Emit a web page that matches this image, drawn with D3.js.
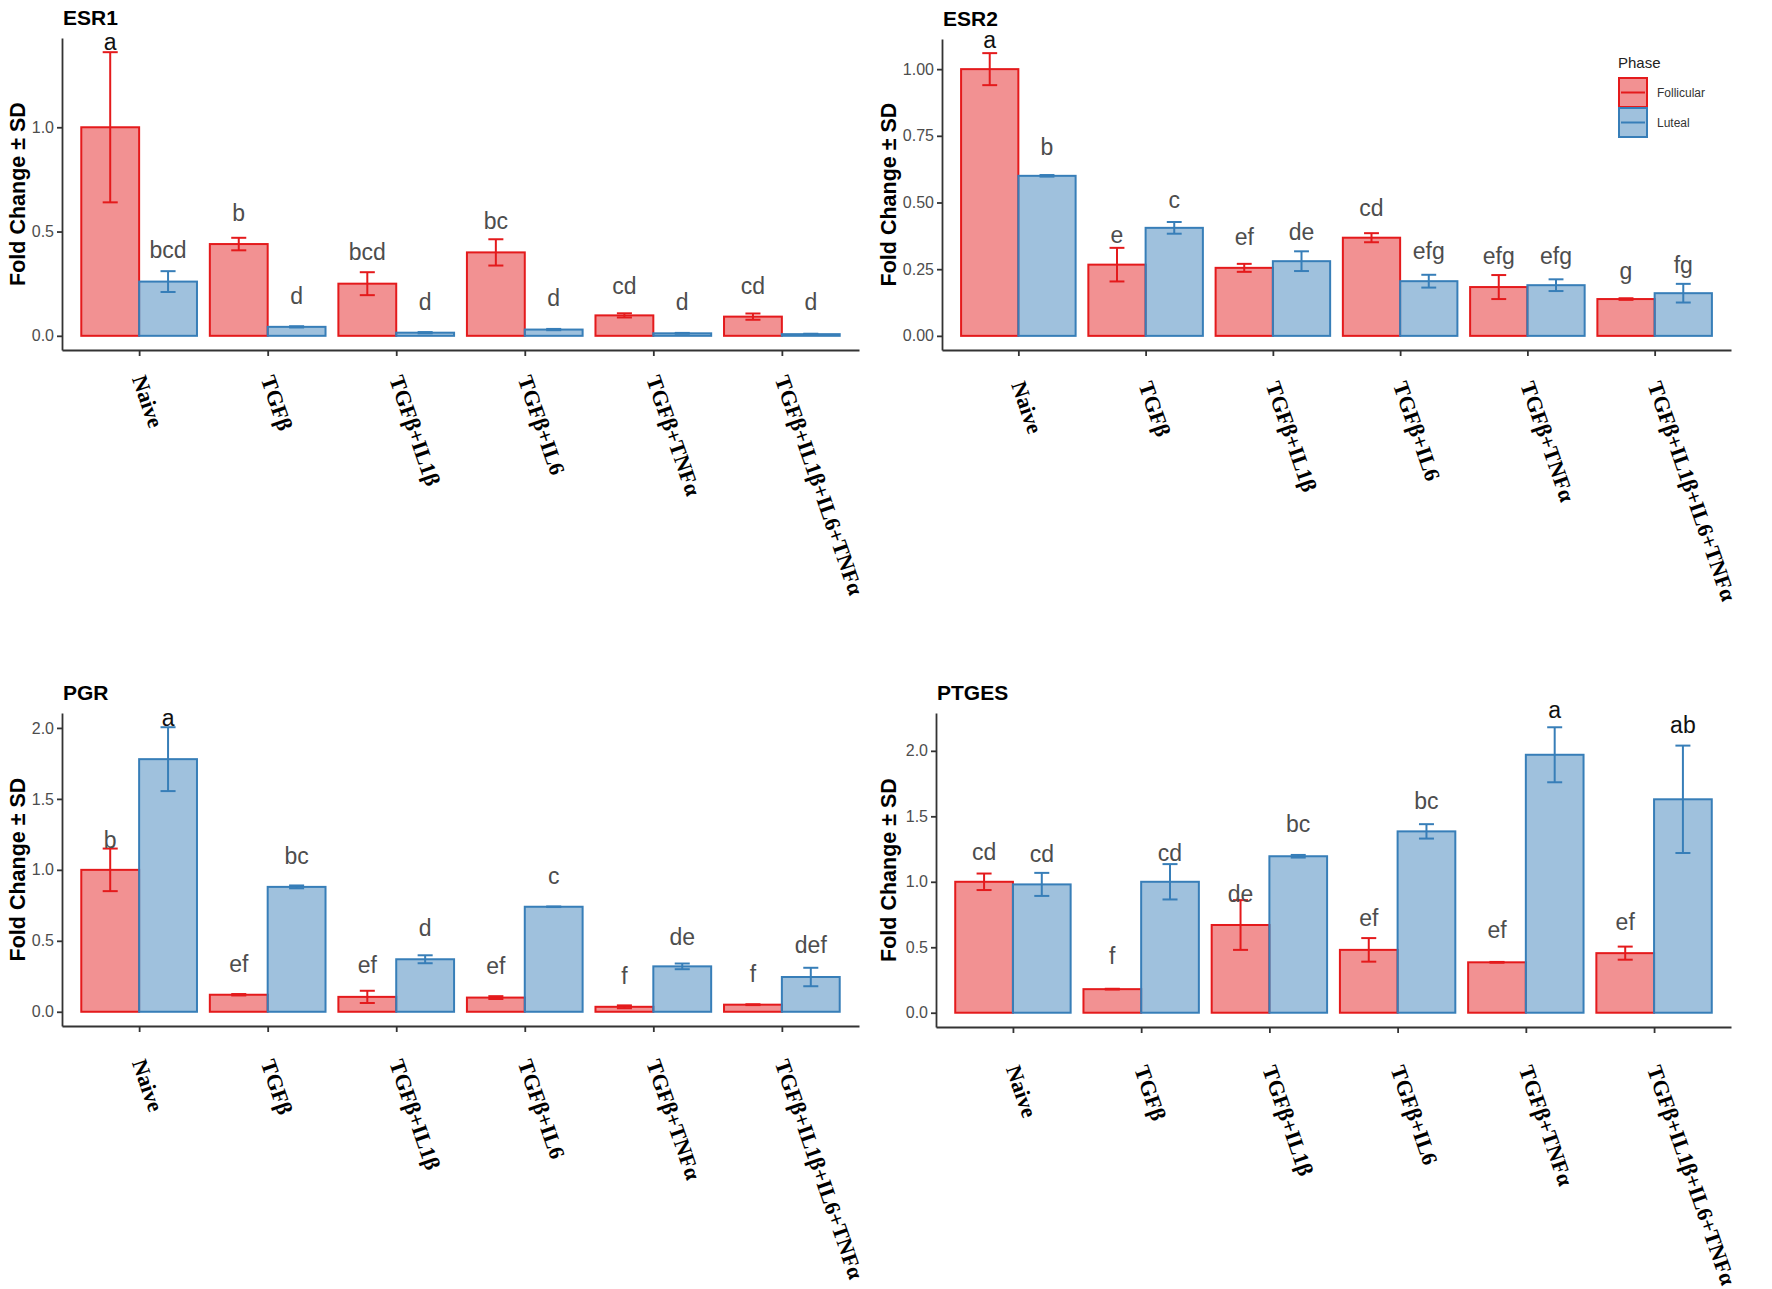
<!DOCTYPE html>
<html>
<head>
<meta charset="utf-8">
<script src="https://cdn.jsdelivr.net/npm/d3@7"></script>
<style>
  body { margin: 0; background: #fff; }
  .tick text { font-family: "Liberation Sans Narrow", "Arial Narrow", "Liberation Sans", sans-serif; font-size: 16px; fill: #4d4d4d; }
  .tick line, .domain { stroke: #333; stroke-width: 1.8; }
</style>
</head>
<body>
<svg id="fig" width="1772" height="1289"></svg>
<script>
// categories and phases
const categories = ['Naive', 'TGFβ', 'TGFβ+IL1β', 'TGFβ+IL6', 'TGFβ+TNFα', 'TGFβ+IL1β+IL6+TNFα'];
const phases = ['Follicular', 'Luteal'];

// ESR1
const esr1Follicular = [1.00, 0.44, 0.25, 0.40, 0.098, 0.092];
const esr1FollicularSD = [0.36, 0.03, 0.055, 0.063, 0.01, 0.015];
const esr1Luteal = [0.26, 0.043, 0.015, 0.03, 0.012, 0.008];
const esr1LutealSD = [0.05, 0.003, 0.003, 0.003, 0.002, 0.002];
const esr1FollicularLetters = ['a', 'b', 'bcd', 'bc', 'cd', 'cd'];
const esr1LutealLetters = ['bcd', 'd', 'd', 'd', 'd', 'd'];
const esr1FollicularLetterY = [1.41, 0.59, 0.40, 0.55, 0.24, 0.24];
const esr1LutealLetterY = [0.41, 0.19, 0.16, 0.18, 0.16, 0.16];
const esr1Ticks = [0, 0.5, 1.0];

// ESR2
const esr2Follicular = [1.00, 0.267, 0.255, 0.368, 0.183, 0.138];
const esr2FollicularSD = [0.06, 0.063, 0.015, 0.017, 0.045, 0.003];
const esr2Luteal = [0.60, 0.405, 0.28, 0.205, 0.19, 0.16];
const esr2LutealSD = [0.003, 0.022, 0.037, 0.024, 0.022, 0.035];
const esr2FollicularLetters = ['a', 'e', 'ef', 'cd', 'efg', 'g'];
const esr2LutealLetters = ['b', 'c', 'de', 'efg', 'efg', 'fg'];
const esr2FollicularLetterY = [1.11, 0.38, 0.37, 0.48, 0.30, 0.245];
const esr2LutealLetterY = [0.71, 0.51, 0.39, 0.32, 0.30, 0.265];
const esr2Ticks = [0, 0.25, 0.5, 0.75, 1.0];

// PGR
const pgrFollicular = [1.00, 0.12, 0.105, 0.10, 0.035, 0.05];
const pgrFollicularSD = [0.15, 0.005, 0.043, 0.01, 0.01, 0.003];
const pgrLuteal = [1.78, 0.88, 0.37, 0.74, 0.32, 0.245];
const pgrLutealSD = [0.225, 0.01, 0.028, 0.002, 0.02, 0.065];
const pgrFollicularLetters = ['b', 'ef', 'ef', 'ef', 'f', 'f'];
const pgrLutealLetters = ['a', 'bc', 'd', 'c', 'de', 'def'];
const pgrFollicularLetterY = [1.21, 0.34, 0.33, 0.32, 0.25, 0.27];
const pgrLutealLetterY = [2.07, 1.10, 0.59, 0.96, 0.53, 0.47];
const pgrTicks = [0, 0.5, 1.0, 1.5, 2.0];

// PTGES
const ptgesFollicular = [1.00, 0.18, 0.67, 0.48, 0.385, 0.455];
const ptgesFollicularSD = [0.063, 0.003, 0.19, 0.09, 0.003, 0.05];
const ptgesLuteal = [0.98, 1.00, 1.195, 1.385, 1.97, 1.63];
const ptgesLutealSD = [0.088, 0.135, 0.01, 0.055, 0.21, 0.41];
const ptgesFollicularLetters = ['cd', 'f', 'de', 'ef', 'ef', 'ef'];
const ptgesLutealLetters = ['cd', 'cd', 'bc', 'bc', 'a', 'ab'];
const ptgesFollicularLetterY = [1.23, 0.43, 0.91, 0.72, 0.63, 0.69];
const ptgesLutealLetterY = [1.21, 1.22, 1.44, 1.62, 2.31, 2.20];
const ptgesTicks = [0, 0.5, 1.0, 1.5, 2.0];

const phaseColors = ['#E41A1C', '#377EB8'];
const fillOpacity = 0.48;

// panel layout (pixels)
const panels = [
  { title: 'ESR1', mean: [esr1Follicular, esr1Luteal], sd: [esr1FollicularSD, esr1LutealSD],
    letters: [esr1FollicularLetters, esr1LutealLetters], letterY: [esr1FollicularLetterY, esr1LutealLetterY],
    ticks: esr1Ticks, fmt: '.1f', x0: 62, x1: 859, yTop: 38, yBot: 350, yTitleX: 17, labOff: 26, legend: false },
  { title: 'ESR2', mean: [esr2Follicular, esr2Luteal], sd: [esr2FollicularSD, esr2LutealSD],
    letters: [esr2FollicularLetters, esr2LutealLetters], letterY: [esr2FollicularLetterY, esr2LutealLetterY],
    ticks: esr2Ticks, fmt: '.2f', x0: 942, x1: 1731, yTop: 39, yBot: 350, yTitleX: 888, labOff: 32, legend: true },
  { title: 'PGR', mean: [pgrFollicular, pgrLuteal], sd: [pgrFollicularSD, pgrLutealSD],
    letters: [pgrFollicularLetters, pgrLutealLetters], letterY: [pgrFollicularLetterY, pgrLutealLetterY],
    ticks: pgrTicks, fmt: '.1f', x0: 62, x1: 859, yTop: 713, yBot: 1026, yTitleX: 17, labOff: 34, legend: false },
  { title: 'PTGES', mean: [ptgesFollicular, ptgesLuteal], sd: [ptgesFollicularSD, ptgesLutealSD],
    letters: [ptgesFollicularLetters, ptgesLutealLetters], letterY: [ptgesFollicularLetterY, ptgesLutealLetterY],
    ticks: ptgesTicks, fmt: '.1f', x0: 936, x1: 1731, yTop: 713, yBot: 1027, yTitleX: 888, labOff: 39, legend: false }
];

const svg = d3.select('#fig');
svg.append('rect').attr('width', 1772).attr('height', 1289).attr('fill', '#fff');

panels.forEach(p => {
  const g = svg.append('g');

  // scales, ggplot style expansion
  const maxTop = d3.max([0, 1].flatMap(k => p.mean[k].map((m, i) => m + p.sd[k][i])));
  const y = d3.scaleLinear().domain([-0.05 * maxTop, 1.05 * maxTop]).range([p.yBot, p.yTop]);
  const x = d3.scalePoint().domain(categories).range([p.x0, p.x1]).padding(0.6);
  const bw = x.step() * 0.45;

  // rows for bars
  const rows = [];
  categories.forEach((c, i) => {
    phases.forEach((ph, k) => {
      rows.push({ cat: c, k: k, mean: p.mean[k][i], sd: p.sd[k][i], letter: p.letters[k][i], ly: p.letterY[k][i] });
    });
  });
  const barX = d => x(d.cat) - bw + d.k * bw;

  g.append('g').selectAll('rect')
    .data(rows)
    .join('rect')
    .attr('x', barX)
    .attr('y', d => y(d.mean))
    .attr('width', bw)
    .attr('height', d => y(0) - y(d.mean))
    .attr('fill', d => phaseColors[d.k])
    .attr('fill-opacity', fillOpacity)
    .attr('stroke', d => phaseColors[d.k])
    .attr('stroke-width', 2);

  //error bars
  const eb = g.append('g').selectAll('g')
    .data(rows)
    .join('g')
    .attr('stroke', d => phaseColors[d.k])
    .attr('stroke-width', 2);
  const cap = bw * 0.13;
  eb.append('line')
    .attr('x1', d => barX(d) + bw / 2).attr('x2', d => barX(d) + bw / 2)
    .attr('y1', d => y(d.mean + d.sd)).attr('y2', d => y(d.mean - d.sd));
  eb.append('line')
    .attr('x1', d => barX(d) + bw / 2 - cap).attr('x2', d => barX(d) + bw / 2 + cap)
    .attr('y1', d => y(d.mean + d.sd)).attr('y2', d => y(d.mean + d.sd));
  eb.append('line')
    .attr('x1', d => barX(d) + bw / 2 - cap).attr('x2', d => barX(d) + bw / 2 + cap)
    .attr('y1', d => y(d.mean - d.sd)).attr('y2', d => y(d.mean - d.sd));

  // significance letters
  g.append('g').selectAll('text')
    .data(rows)
    .join('text')
    .attr('x', d => barX(d) + bw / 2)
    .attr('y', d => y(d.ly))
    .attr('dy', '0.35em')
    .attr('text-anchor', 'middle')
    .attr('font-family', '"Liberation Sans Narrow", "Arial Narrow", "Liberation Sans", sans-serif')
    .attr('font-size', 23)
    .attr('fill', d => d.letter.startsWith('a') ? '#111' : '#4d4d4d')
    .text(d => d.letter);

  // axes
  g.append('g')
    .attr('transform', `translate(${p.x0},0)`)
    .call(d3.axisLeft(y).tickValues(p.ticks).tickFormat(d3.format(p.fmt)).tickSize(5).tickSizeOuter(0).tickPadding(3));
  const xa = g.append('g')
    .attr('transform', `translate(0,${p.yBot})`)
    .call(d3.axisBottom(x).tickSize(6).tickSizeOuter(0));
  xa.selectAll('.tick text').remove();

  // rotated category labels
  g.append('g').selectAll('text')
    .data(categories)
    .join('text')
    .attr('transform', d => `translate(${x(d)},${p.yBot + p.labOff}) rotate(71)`)
    .attr('dy', '0.35em')
    .attr('font-family', '"Liberation Serif", "Times New Roman", serif')
    .attr('font-weight', 'bold')
    .attr('font-size', 22)
    .attr('fill', '#000')
    .text(d => d);

  // titles
  g.append('text')
    .attr('x', p.x0 + 1)
    .attr('y', p.yTop - 13)
    .attr('font-family', '"Liberation Sans", Arial, sans-serif')
    .attr('font-weight', 'bold')
    .attr('font-size', 21)
    .text(p.title);
  g.append('text')
    .attr('transform', `translate(${p.yTitleX},${(p.yTop + p.yBot) / 2}) rotate(-90)`)
    .attr('dy', '0.35em')
    .attr('text-anchor', 'middle')
    .attr('font-family', '"Liberation Sans", Arial, sans-serif')
    .attr('font-weight', 'bold')
    .attr('font-size', 21.5)
    .text('Fold Change ± SD');

  //legend
  if (p.legend) {
    const lg = g.append('g').attr('transform', 'translate(1618,55)');
    lg.append('text')
      .attr('y', 13)
      .attr('font-family', '"Liberation Sans", Arial, sans-serif')
      .attr('font-size', 15)
      .attr('fill', '#222')
      .text('Phase');
    const item = lg.selectAll('g.item')
      .data(phases)
      .join('g')
      .attr('class', 'item')
      .attr('transform', (d, i) => `translate(1,${23 + i * 30})`);
    item.append('rect')
      .attr('width', 28).attr('height', 29)
      .attr('fill', (d, i) => phaseColors[i])
      .attr('fill-opacity', fillOpacity)
      .attr('stroke', (d, i) => phaseColors[i])
      .attr('stroke-width', 2);
    item.append('line')
      .attr('x1', 2).attr('x2', 26).attr('y1', 14.5).attr('y2', 14.5)
      .attr('stroke', (d, i) => phaseColors[i])
      .attr('stroke-width', 2);
    item.append('text')
      .attr('x', 38).attr('y', 14.5).attr('dy', '0.35em')
      .attr('font-family', '"Liberation Sans", Arial, sans-serif')
      .attr('font-size', 12)
      .attr('fill', '#333')
      .text(d => d);
  }
});
</script>
</body>
</html>
